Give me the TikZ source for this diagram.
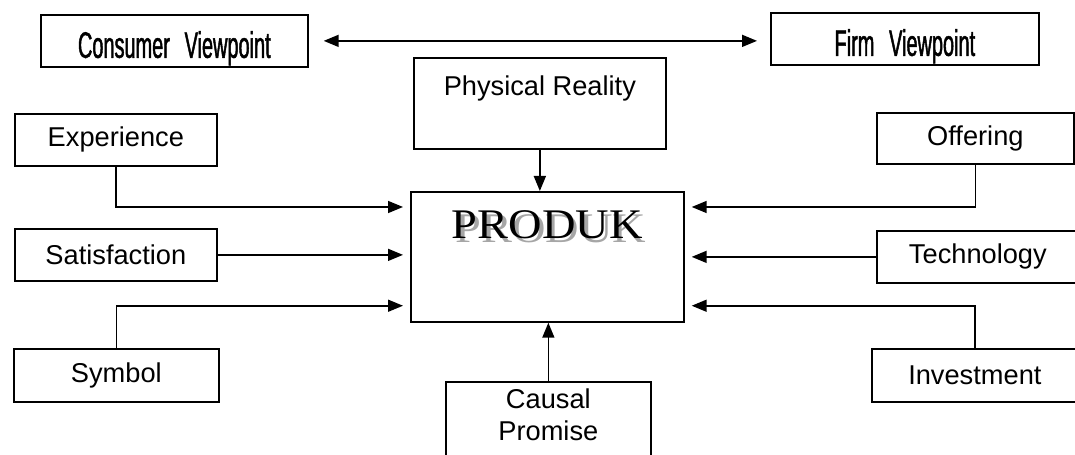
\documentclass[tikz,border=0pt]{standalone}
\usepackage{fontspec}
\setmainfont{Liberation Sans}
\newfontfamily\condfont[FakeStretch=0.54, FakeBold=1.2]{Liberation Sans}
\newfontfamily\produkfont[FakeStretch=1.1]{Liberation Serif}
\usepackage{tikz}
\usetikzlibrary{positioning, arrows.meta}
\newcommand{\shadowtext}[1]{\makebox[0pt][l]{\hspace{0.08em}\raisebox{-0.08em}{\color{black!35}#1}}#1}

\begin{document}
\begin{tikzpicture}[x=0.02cm, y=-0.02cm,
    box/.style={draw, line width=1pt, inner sep=0pt, anchor=north west, align=center,
        font=\fontsize{15.5}{18.5}\selectfont},
    side/.style={box, minimum width=4.04cm, minimum height=1.04cm},
    view/.style={box, minimum width=5.36cm, text height=0.86cm, text depth=0.18cm,
        font=\condfont\fontsize{21}{24}\selectfont},
    arr/.style={-{Triangle[length=0.3cm, width=0.24cm]}, line width=0.9pt},
    both/.style={{Triangle[length=0.3cm, width=0.24cm]}-{Triangle[length=0.3cm, width=0.24cm]}, line width=0.9pt}]
    \useasboundingbox (0,0) rectangle (1075,455);

    \node (cons) [view, minimum width=5.34cm] at (40,14) {Consumer\hspace{0.25em} Viewpoint};
    \node (firm) [view] at (770,12) {Firm\hspace{0.25em} Viewpoint};
    \node (phys) [box, minimum width=5.04cm, text height=0.76cm, text depth=1.06cm] at (413,57) {Physical Reality};
    \node (prod) [box, minimum width=5.46cm, text height=0.94cm, text depth=1.66cm,
        font=\produkfont\fontsize{24}{28}\selectfont] at (410,191) {\shadowtext{PRODUK}};

    \node (exp) [side] at (14,113) {Experience};
    \node (sat) [side] at (14,228) {Satisfaction};
    \node (sym) [side, minimum width=4.1cm, minimum height=1.06cm] at (13,348) {Symbol};
    \node (off) [side, minimum width=3.94cm, minimum height=1.02cm] at (876,112) {Offering};
    \node (tech) [side] at (876,230) {Technology};
    \node (inv) [side, minimum width=4.12cm, minimum height=1.06cm] at (871,348) {Investment};
    \node (caus) [box, minimum width=4.1cm, text height=1.18cm, text depth=0.56cm] at (445,381) {Causal\\Promise};

    \draw[both, shorten <=0.3cm, shorten >=0.26cm] (cons.east) -- (cons.east -| firm.west);
    \draw[arr] (phys.south) -- (phys.south |- prod.north);
    \draw[arr] (caus.north) -- (caus.north |- prod.south);
    % left side
    \draw[arr, shorten >=0.14cm] (exp.south) |- ([yshift=-0.32cm]prod.north west);
    \draw[arr, shorten >=0.14cm] (sat.east) -- (sat.east -| prod.west);
    \draw[arr, shorten >=0.14cm] (sym.north) |- ([yshift=0.34cm]prod.south west);
    % right side
    \draw[arr, shorten >=0.14cm] (off.south) |- ([yshift=-0.32cm]prod.north east);
    \draw[arr, shorten >=0.14cm] (tech.west) -- (tech.west -| prod.east);
    \draw[arr, shorten >=0.14cm] (inv.north) |- ([yshift=0.34cm]prod.south east);
\end{tikzpicture}
\end{document}
